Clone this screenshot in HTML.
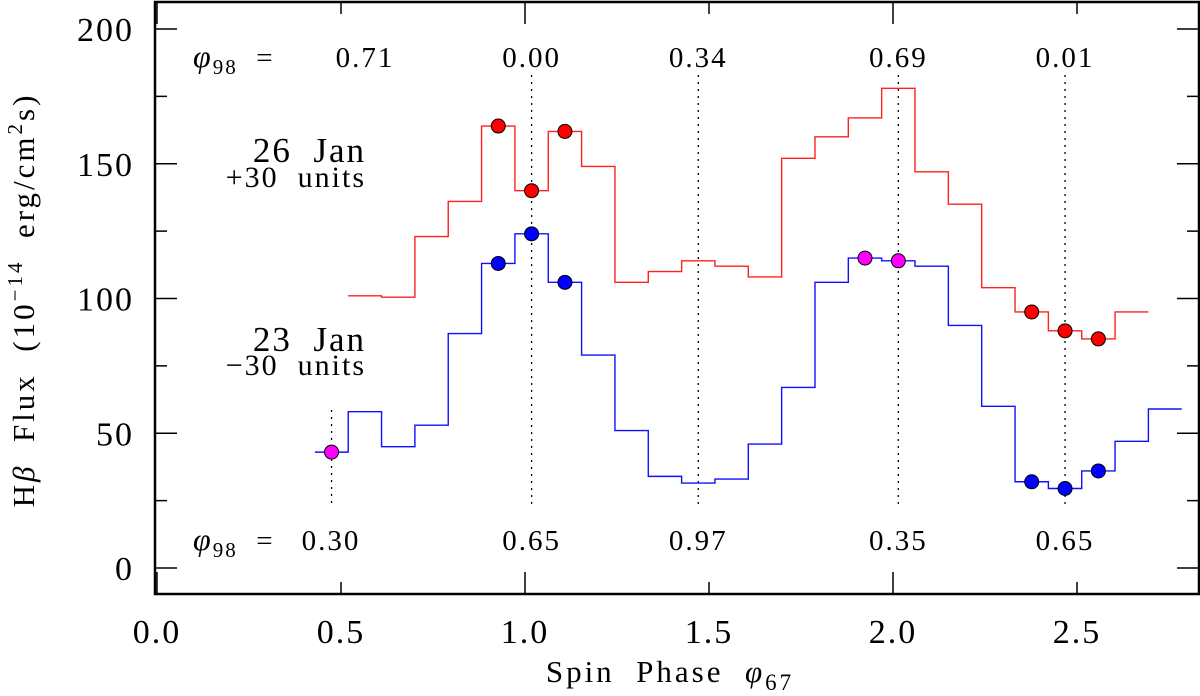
<!DOCTYPE html>
<html><head><meta charset="utf-8"><style>
html,body{margin:0;padding:0;background:#fff;}
svg{display:block;font-family:"Liberation Serif","DejaVu Serif",serif;}
text{white-space:pre;}
</style></head><body>
<svg id="chart" width="1200" height="696" viewBox="0 0 1200 696">
<g id="axes"></g>
<g id="marks"></g>
<g id="labels"></g>
</svg>
<script>
const blueStart = 0.429;
const binWidth = 0.0906;
const redValues = [101,100.5,123,136,164,140,162,149,106,110,114,112,108,152,160,167,178,147,135,104,95,88,85,95];
const blueValues = [43,58,45,53,87,113,124,106,79,51,34,31.5,33,46,67,106,115,114,112,90,60,32,29.5,36,47,59];
const redDotBins = [5,6,7,21,22,23];
const blueDotBins = [5,6,7,21,22,23];
const magentaDotBins = [0,16,17];
const xTicks = [0,0.5,1.0,1.5,2.0,2.5];
const xTickLabels = ["0.0","0.5","1.0","1.5","2.0","2.5"];
const yTicks = [0,50,100,150,200];
const yTickLabels = ["0","50","100","150","200"];
const dottedBins = [6,11,17,22];
const topPhase = ["0.71","0.00","0.34","0.69","0.01"];
const bottomPhase = ["0.30","0.65","0.97","0.35","0.65"];

const NS="http://www.w3.org/2000/svg";
const X=v=>157+368*v, Y=v=>568-2.695*v;
const L=155,R=1199,T=2,B=594;
function mk(tag,attrs,parent,txt){const e=document.createElementNS(NS,tag);for(const k in attrs)e.setAttribute(k,attrs[k]);if(txt!==undefined)e.textContent=txt;parent.appendChild(e);return e;}
const ax=document.getElementById('axes'),mg=document.getElementById('marks'),lb=document.getElementById('labels');
let f=mk('rect',{x:L,y:T,width:R-L,height:B-T,fill:'none',stroke:'#000','stroke-width':2.5},ax);

for(let k=0;k<=5;k++){const vv=k*0.5;const len=(k%2===0)?22:12;
 let t=mk('line',{x1:X(vv),x2:X(vv),y1:B,y2:B-len,stroke:'#000','stroke-width':1.5},ax);
 let t2=mk('line',{x1:X(vv),x2:X(vv),y1:T,y2:T+len,stroke:'#000','stroke-width':1.5},ax);}
for(let v=0;v<=210;v+=25){const maj=v%50===0;const len=maj?22:12;
 let t=mk('line',{x1:L,x2:L+len,y1:Y(v),y2:Y(v),stroke:'#000','stroke-width':1.5},ax);
 let t2=mk('line',{x1:R,x2:R-len,y1:Y(v),y2:Y(v),stroke:'#000','stroke-width':1.5},ax);}
xTicks.forEach((v,i)=>{let t=mk('text',{x:X(v),y:643,'font-size':34,'letter-spacing':2,'text-anchor':'middle'},ax,xTickLabels[i]);});
yTicks.forEach((v,i)=>{let t=mk('text',{x:134,y:Y(v)+12,'font-size':34,'letter-spacing':2,'text-anchor':'end'},ax,yTickLabels[i]);});
let xt=mk('text',{x:670,y:682,'font-size':31,'letter-spacing':3,'text-anchor':'middle'},ax);

xt.innerHTML='Spin  Phase  <tspan font-style="italic">φ</tspan><tspan font-size="23" dy="8">67</tspan>';
let yt=mk('text',{transform:'translate(34,300) rotate(-90)','font-size':31,'letter-spacing':3,'text-anchor':'middle'},ax);

yt.innerHTML='H<tspan font-style="italic">β</tspan>  Flux  (10<tspan font-size="21" dy="-12">−14</tspan><tspan dy="12">  erg/cm</tspan><tspan font-size="21" dy="-12">2</tspan><tspan dy="12">s)</tspan>';
function center(i){return blueStart+binWidth*(i+0.5);}
dottedBins.forEach(b=>{let l=mk('line',{x1:X(center(b)),x2:X(center(b)),y1:75,y2:505,stroke:'#000','stroke-width':1.3,'stroke-dasharray':'2,5'},mg);});
let l0=mk('line',{x1:X(center(0)),x2:X(center(0)),y1:410,y2:505,stroke:'#000','stroke-width':1.3,'stroke-dasharray':'2,5'},mg);

function stepPath(vals,startBin){let d='';vals.forEach((v,i)=>{const x0=X(blueStart+binWidth*(startBin+i)),x1=X(blueStart+binWidth*(startBin+i+1));d+=(i===0?'M':'L')+x0+','+Y(v)+'L'+x1+','+Y(v);});return d;}
let rp=mk('path',{d:stepPath(redValues,1),fill:'none',stroke:'#ff2020','stroke-width':1.4},mg);
let bp=mk('path',{d:stepPath(blueValues,0),fill:'none',stroke:'#1010ff','stroke-width':1.4},mg);
redDotBins.forEach(b=>{let c=mk('circle',{cx:X(center(b)),cy:Y(redValues[b-1]),r:7,fill:'#ff0000',stroke:'#000','stroke-width':1},mg);});
blueDotBins.forEach(b=>{let c=mk('circle',{cx:X(center(b)),cy:Y(blueValues[b]),r:7,fill:'#0000ff',stroke:'#000','stroke-width':1},mg);});
magentaDotBins.forEach(b=>{let c=mk('circle',{cx:X(center(b)),cy:Y(blueValues[b]),r:7,fill:'#ff00ff',stroke:'#000','stroke-width':1},mg);});
const topX=[365,X(center(6)),X(center(11)),X(center(17)),X(center(22))];
const botX=[331,X(center(6)),X(center(11)),X(center(17)),X(center(22))];
let tl=mk('text',{x:193,y:67,'font-size':29,'letter-spacing':2},lb);
tl.innerHTML='<tspan font-style="italic" font-size="32">φ</tspan><tspan font-size="21" dy="7">98</tspan><tspan dy="-7">  =</tspan>';
topPhase.forEach((s,i)=>{let t=mk('text',{x:topX[i],y:67,'font-size':29,'letter-spacing':2,'text-anchor':'middle'},lb,s);});
let bl=mk('text',{x:193,y:550,'font-size':29,'letter-spacing':2},lb);
bl.innerHTML='<tspan font-style="italic" font-size="32">φ</tspan><tspan font-size="21" dy="7">98</tspan><tspan dy="-7">  =</tspan>';
bottomPhase.forEach((s,i)=>{let t=mk('text',{x:botX[i],y:550,'font-size':29,'letter-spacing':2,'text-anchor':'middle'},lb,s);});
[['26  Jan',162,35],['+30  units',187,30],['23  Jan',351,35],['−30  units',375,30]].forEach((a,i)=>{let t=mk('text',{x:366,y:a[1],'font-size':a[2],'letter-spacing':2,'text-anchor':'end'},lb,a[0]);});
</script>
</body></html>
